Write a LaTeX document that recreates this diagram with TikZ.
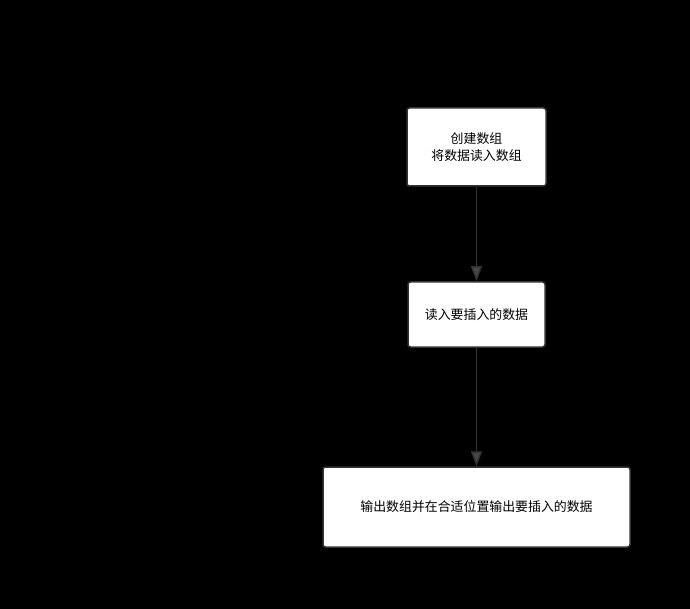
\documentclass[tikz,border=0pt]{standalone}
\usepackage{fontspec}
\setmainfont{Noto Sans CJK SC}
\usetikzlibrary{arrows.meta}
\definecolor{edgegray}{HTML}{333333}
\tikzset{
  stepbox/.style={draw=edgegray, line width=1.5pt, fill=white, rounded corners=2.5pt,
    align=center, inner sep=0pt, font=\fontsize{12.9}{17}\selectfont},
  flow/.style={draw=edgegray, line width=1.5pt, -{Triangle[length=15pt,width=11pt,fill=edgegray!90]}}
}
\begin{document}
\begin{tikzpicture}[x=1pt,y=-1pt]
      \fill[black] (0,0) rectangle (690,609);
      \useasboundingbox (0,0) rectangle (690,609);
      \node[stepbox, minimum width=139pt, minimum height=78pt] (create) at (476.5,147) {创建数组\\将数据读入数组};
      \node[stepbox, minimum width=137pt, minimum height=65pt] (read) at (476.5,314.5) {读入要插入的数据};
      \node[stepbox, minimum width=307pt, minimum height=80pt] (output) at (476.5,507) {输出数组并在合适位置输出要插入的数据};
      \draw[flow] (create) -- (read);
      \draw[flow] (read) -- (output);
    \end{tikzpicture}
\end{document}
